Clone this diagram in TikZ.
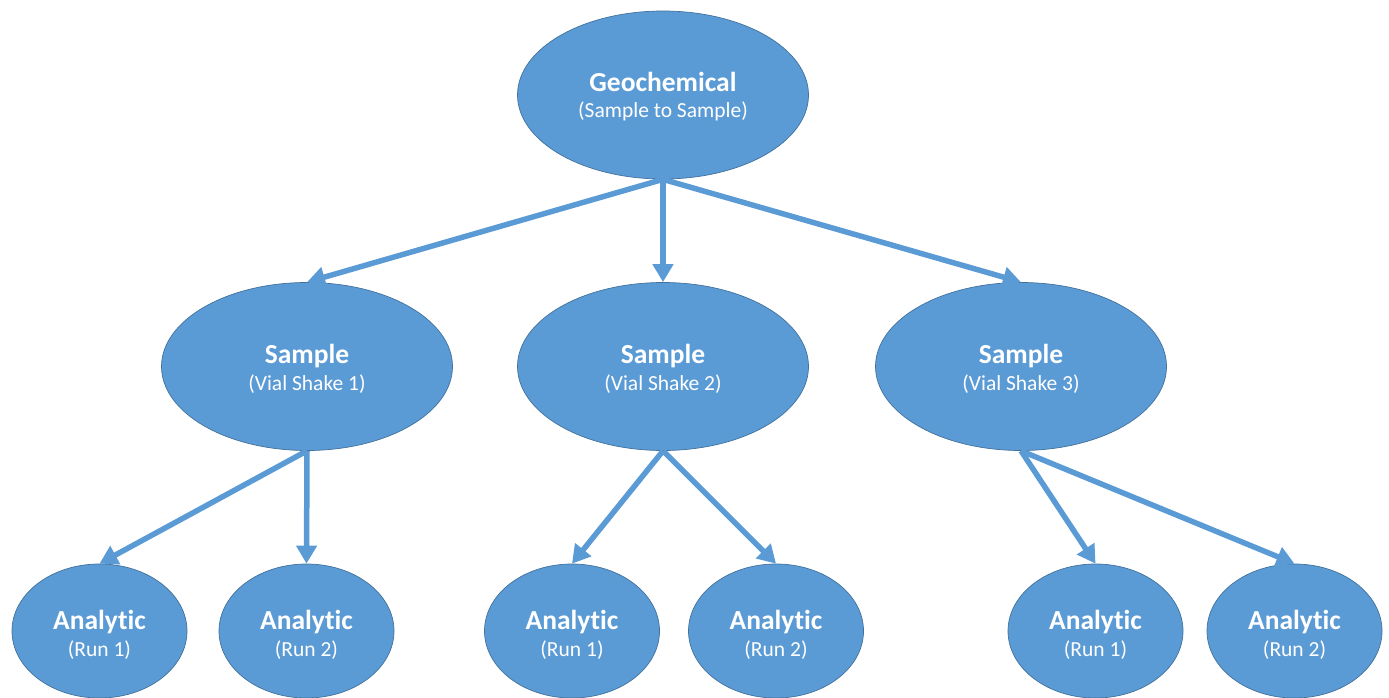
\documentclass[tikz,border=0pt]{standalone}
\usepackage{fontspec}
\setmainfont{Carlito}[Ligatures={NoCommon,NoRare,NoContextual}]
\usetikzlibrary{arrows.meta,shapes.geometric}
\definecolor{fillblue}{HTML}{5B9BD5}
\definecolor{edgeblue}{HTML}{41719C}
\begin{document}
\begin{tikzpicture}[x=1pt,y=-1pt,
  ellbase/.style={ellipse, draw=edgeblue, line width=0.7pt, fill=fillblue, inner sep=0pt},
  big/.style={ellbase, minimum width=291pt, minimum height=168pt},
  small/.style={ellbase, minimum width=175pt, minimum height=134pt},
  ttl/.style={anchor=base, text=white, inner sep=0pt, font=\fontsize{27.5}{30}\selectfont\bfseries},
  sub/.style={anchor=base, text=white, inner sep=0pt, font=\fontsize{21.5}{24}\selectfont},
  arr/.style={draw=fillblue, line width=5.5pt, -{Triangle[length=18pt,width=20pt]}}]
\useasboundingbox (0,0) rectangle (1389,698);

% top
\node[big] (g) at (663,95) {};
\node[ttl] (gT) at (663,92) {Geochemical};
\node[sub] (gS) at (663,118) {(Sample to Sample)};

% middle
\node[big] (s1) at (307,366.5) {};
\node[big] (s2) at (663,366.5) {};
\node[big] (s3) at (1021,366.5) {};
\node[ttl] (s1T) at (307,363) {Sample};
\node[sub] (s1S) at (307,390) {(Vial Shake 1)};
\node[ttl] (s2T) at (663,363) {Sample};
\node[sub] (s2S) at (663,390) {(Vial Shake 2)};
\node[ttl] (s3T) at (1021,363) {Sample};
\node[sub] (s3S) at (1021,390) {(Vial Shake 3)};

% bottom
\foreach \n/\x/\r in {a1/99.5/1, a2/306.5/2, a3/572/1, a4/776/2, a5/1095.5/1, a6/1294.5/2}{
  \node[small] (\n) at (\x,631) {};
  \node[ttl] (\n T) at (\x,629) {Analytic};
  \node[sub] (\n S) at (\x,656.5) {(Run \r)};
}

% connectors
\draw[arr] (g.south) -- (s1.north);
\draw[arr] (g.south) -- (s2.north);
\draw[arr] (g.south) -- (s3.north);
\draw[arr] (s1.south) -- (a1.north);
\draw[arr] (s1.south) -- (a2.north);
\draw[arr] (s2.south) -- (a3.north);
\draw[arr] (s2.south) -- (a4.north);
\draw[arr] (s3.south) -- (a5.north);
\draw[arr] (s3.south) -- (a6.north);
\end{tikzpicture}
\end{document}
